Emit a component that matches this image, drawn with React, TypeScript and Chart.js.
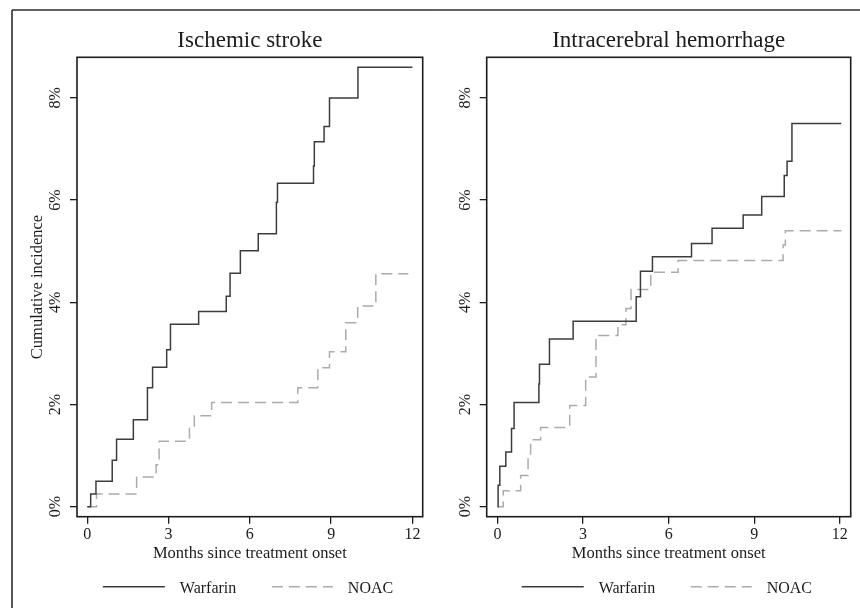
import React, { useEffect, useRef } from "react";
import { Chart, registerables } from "chart.js";

Chart.register(...registerables);

// ---------- data ----------
const panelTitles = ["Ischemic stroke", "Intracerebral hemorrhage"];
const seriesNames = ["Warfarin", "NOAC"];
const xTicks = [0, 3, 6, 9, 12];
const yTicks = [0, 2, 4, 6, 8];
const yTickLabels = ["0%", "2%", "4%", "6%", "8%"];
const xAxisTitle = "Months since treatment onset";
const yAxisTitle = "Cumulative incidence";

// Ischemic stroke
const isWarfarinMonths = [0, 0.125, 0.32, 0.92, 1.08, 1.7, 2.22, 2.41, 2.93, 3.07, 4.11, 5.13, 5.27, 5.65, 6.31, 6.98, 7.02, 8.35, 8.38, 8.74, 8.94, 9.99, 12.0];
const isWarfarinPct = [0, 0.25, 0.5, 0.91, 1.32, 1.7, 2.33, 2.73, 3.07, 3.57, 3.82, 4.12, 4.57, 5.01, 5.34, 5.96, 6.33, 6.67, 7.14, 7.44, 8.0, 8.6, 8.6];
const isNoacMonths = [0, 0.34, 1.82, 2.54, 2.65, 3.77, 3.95, 4.59, 7.77, 8.51, 8.94, 9.54, 9.98, 10.65, 11.85];
const isNoacPct = [0, 0.25, 0.58, 0.82, 1.28, 1.55, 1.78, 2.04, 2.33, 2.72, 3.03, 3.6, 3.93, 4.56, 4.56];

// Intracerebral hemorrhage
const ichWarfarinMonths = [0, 0.02, 0.08, 0.29, 0.49, 0.58, 1.45, 1.47, 1.82, 2.65, 4.86, 5.01, 5.43, 6.8, 7.52, 8.61, 9.26, 10.05, 10.15, 10.32, 12.05];
const ichWarfarinPct = [0, 0.42, 0.79, 1.07, 1.53, 2.04, 2.4, 2.79, 3.28, 3.63, 4.11, 4.61, 4.89, 5.15, 5.45, 5.71, 6.07, 6.48, 6.76, 7.5, 7.5];
const ichNoacMonths = [0, 0.2, 0.81, 1.07, 1.16, 1.51, 2.53, 3.09, 3.45, 4.22, 4.5, 4.68, 5.37, 6.33, 10.01, 10.09, 12.05];
const ichNoacPct = [0, 0.31, 0.61, 1.01, 1.31, 1.55, 1.98, 2.54, 3.35, 3.56, 3.88, 4.25, 4.59, 4.82, 5.12, 5.4, 5.4];

// ---------- styling ----------
const SERIF = "'Liberation Serif', 'Times New Roman', serif";
const INK = "#1c1c1c";
const WARFARIN_COLOR = "#3c3c3c";
const NOAC_COLOR = "#ababab";
const NOAC_DASH = [11, 6];
const CANVAS_W = 430;
const CANVAS_H = 608;

type PanelProps = {
  title: string;
  wT: number[];
  wP: number[];
  nT: number[];
  nP: number[];
  plotLeft: number;
  plotRight: number;
  showYTitle: boolean;
  leftFrame: boolean;
};

function Panel({ title, wT, wP, nT, nP, plotLeft, plotRight, showYTitle, leftFrame }: PanelProps) {
  const ref = useRef<HTMLCanvasElement>(null);

  useEffect(() => {
    if (!ref.current) return;
    const plotTop = 57.3;
    const plotBottom = 516.7;
    const yAxisW = 10;
    const xAxisH = 40;

    const deco = {
      id: "deco",
      beforeDraw(chart: any) {
        const ctx = chart.ctx;
        ctx.save();
        ctx.strokeStyle = "#2e2e2e";
        ctx.lineWidth = 1.6;
        ctx.beginPath();
        ctx.moveTo(leftFrame ? 12 : 0, 10);
        ctx.lineTo(CANVAS_W, 10);
        if (leftFrame) {
          ctx.moveTo(12, 10);
          ctx.lineTo(12, CANVAS_H);
        }
        ctx.stroke();
        ctx.restore();
      },
      afterDraw(chart: any) {
        const { ctx, chartArea: a, scales } = chart;
        const cx = (a.left + a.right) / 2;
        ctx.save();
        // plot frame
        ctx.strokeStyle = INK;
        ctx.lineWidth = 1.6;
        ctx.setLineDash([]);
        ctx.strokeRect(a.left, a.top, a.right - a.left, a.bottom - a.top);

        ctx.fillStyle = INK;
        // title
        ctx.font = `23px ${SERIF}`;
        ctx.textAlign = "center";
        ctx.textBaseline = "alphabetic";
        ctx.fillText(title, cx, 46.5);

        // y tick labels (rotated)
        ctx.font = `16px ${SERIF}`;
        yTicks.forEach((v, i) => {
          const y = scales.y.getPixelForValue(v);
          ctx.save();
          ctx.translate(a.left - 21, y);
          ctx.rotate(-Math.PI / 2);
          ctx.textAlign = "center";
          ctx.textBaseline = "middle";
          ctx.fillText(yTickLabels[i], 0, 0);
          ctx.restore();
        });

        // x axis title
        ctx.font = `16.5px ${SERIF}`;
        ctx.textAlign = "center";
        ctx.textBaseline = "alphabetic";
        ctx.fillText(xAxisTitle, cx, 558.3);

        // y axis title
        if (showYTitle) {
          ctx.save();
          ctx.translate(37.2, (a.top + a.bottom) / 2);
          ctx.rotate(-Math.PI / 2);
          ctx.font = `16.5px ${SERIF}`;
          ctx.textAlign = "center";
          ctx.textBaseline = "middle";
          ctx.fillText(yAxisTitle, 0, 0);
          ctx.restore();
        }

        // legend
        const ly = 586.7;
        ctx.lineWidth = 1.5;
        ctx.strokeStyle = WARFARIN_COLOR;
        ctx.beginPath();
        ctx.moveTo(cx - 147, ly);
        ctx.lineTo(cx - 85, ly);
        ctx.stroke();
        ctx.strokeStyle = NOAC_COLOR;
        ctx.setLineDash(NOAC_DASH);
        ctx.beginPath();
        ctx.moveTo(cx + 22, ly);
        ctx.lineTo(cx + 83, ly);
        ctx.stroke();
        ctx.setLineDash([]);
        ctx.font = `16px ${SERIF}`;
        ctx.textAlign = "left";
        ctx.textBaseline = "alphabetic";
        ctx.fillStyle = INK;
        ctx.fillText(seriesNames[0], cx - 70, 592.5);
        ctx.fillText(seriesNames[1], cx + 98, 592.5);
        ctx.restore();
      },
    };

    const chart = new Chart(ref.current, {
      type: "line",
      data: {
        datasets: [
          {
            label: seriesNames[0],
            data: wT.map((t, i) => ({ x: t, y: wP[i] })),
            stepped: "before",
            borderColor: WARFARIN_COLOR,
            borderWidth: 1.5,
            pointRadius: 0,
            fill: false,
          },
          {
            label: seriesNames[1],
            data: nT.map((t, i) => ({ x: t, y: nP[i] })),
            stepped: "before",
            borderColor: NOAC_COLOR,
            borderWidth: 1.5,
            borderDash: NOAC_DASH,
            pointRadius: 0,
            fill: false,
          },
        ],
      },
      options: {
        responsive: false,
        animation: false,
        devicePixelRatio: 1,
        layout: {
          padding: {
            left: plotLeft - yAxisW,
            right: CANVAS_W - plotRight,
            top: plotTop,
            bottom: CANVAS_H - plotBottom - xAxisH,
          },
        },
        plugins: {
          legend: { display: false },
          title: { display: false },
          tooltip: { enabled: false },
        },
        scales: {
          x: {
            type: "linear",
            min: -0.38,
            max: 12.38,
            afterBuildTicks: (axis: any) => {
              axis.ticks = xTicks.map((v) => ({ value: v }));
            },
            afterFit: (axis: any) => {
              axis.height = xAxisH;
            },
            grid: {
              display: true,
              drawOnChartArea: false,
              drawTicks: true,
              tickLength: 7,
              color: INK,
              lineWidth: 1.3,
            },
            border: { display: false },
            ticks: {
              font: { family: SERIF, size: 16 },
              color: INK,
              padding: 1,
              maxRotation: 0,
              minRotation: 0,
              autoSkip: false,
              callback: (v: any) => String(v),
            },
          },
          y: {
            type: "linear",
            min: -0.196,
            max: 8.795,
            afterBuildTicks: (axis: any) => {
              axis.ticks = yTicks.map((v) => ({ value: v }));
            },
            afterFit: (axis: any) => {
              axis.width = yAxisW;
            },
            grid: {
              display: true,
              drawOnChartArea: false,
              drawTicks: true,
              tickLength: 7,
              color: INK,
              lineWidth: 1.3,
            },
            border: { display: false },
            ticks: { display: false },
          },
        },
      },
      plugins: [deco],
    } as any);

    return () => chart.destroy();
  }, []);

  return (
    <canvas
      ref={ref}
      width={CANVAS_W}
      height={CANVAS_H}
      style={{ display: "block", width: CANVAS_W, height: CANVAS_H }}
    />
  );
}

export default function App() {
  return (
    <div
      style={{
        position: "absolute",
        left: 0,
        top: 0,
        width: 860,
        height: 608,
        background: "#fff",
        overflow: "hidden",
      }}
    >
      <div style={{ position: "absolute", left: 0, top: 0 }}>
        <Panel
          title={panelTitles[0]}
          wT={isWarfarinMonths}
          wP={isWarfarinPct}
          nT={isNoacMonths}
          nP={isNoacPct}
          plotLeft={77}
          plotRight={422.7}
          showYTitle={true}
          leftFrame={true}
        />
      </div>
      <div style={{ position: "absolute", left: 430, top: 0 }}>
        <Panel
          title={panelTitles[1]}
          wT={ichWarfarinMonths}
          wP={ichWarfarinPct}
          nT={ichNoacMonths}
          nP={ichNoacPct}
          plotLeft={56.7}
          plotRight={420.7}
          showYTitle={false}
          leftFrame={false}
        />
      </div>
    </div>
  );
}
